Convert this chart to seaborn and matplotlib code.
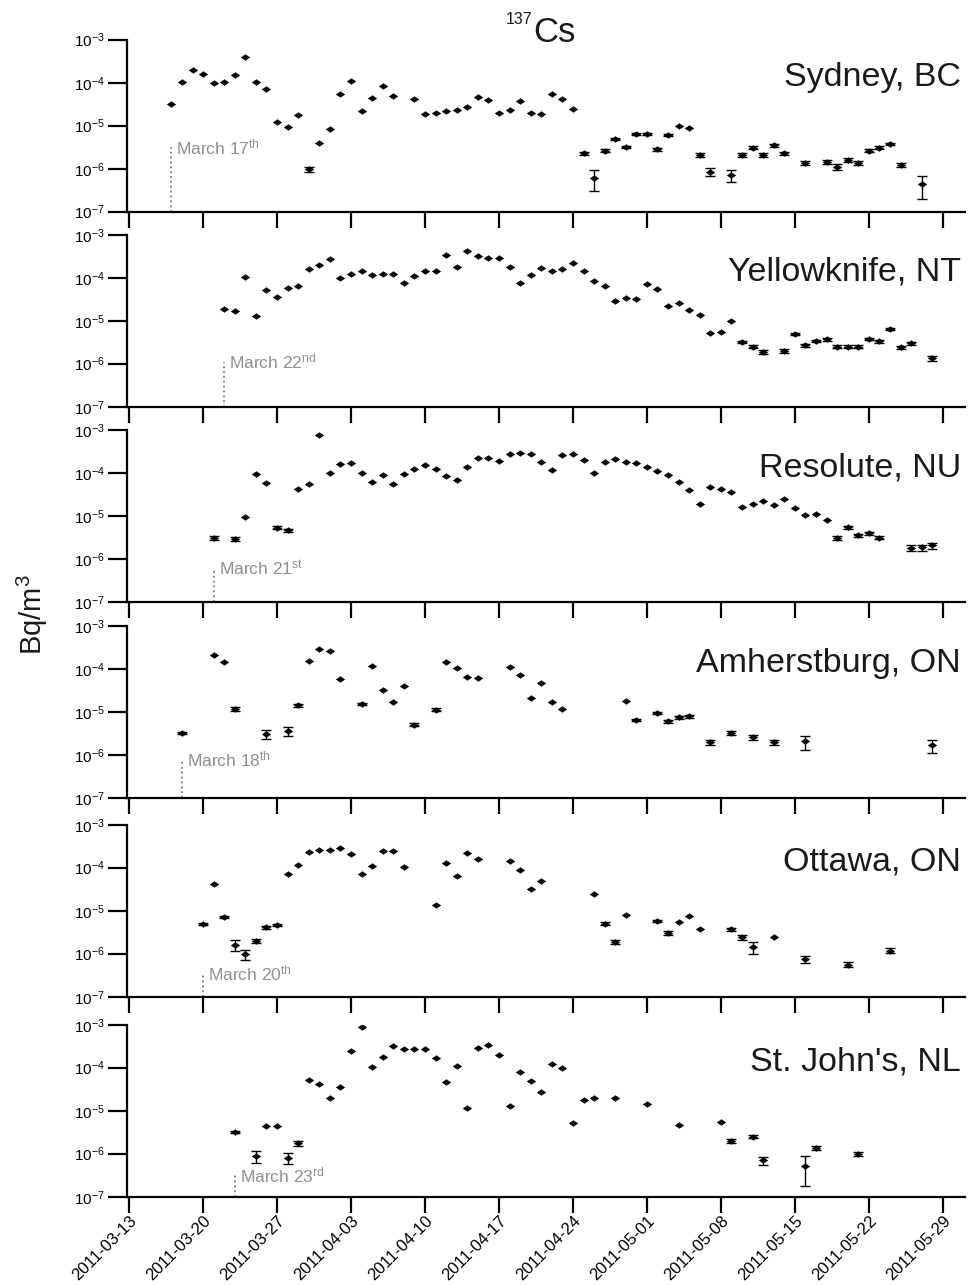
import numpy as np
import pandas as pd
import matplotlib
matplotlib.use("Agg")
import matplotlib.pyplot as plt
import seaborn as sns

# ---------------- data ----------------
START = "2011-03-13"
X_TICKS = ["2011-03-13", "2011-03-20", "2011-03-27", "2011-04-03", "2011-04-10",
           "2011-04-17", "2011-04-24", "2011-05-01", "2011-05-08", "2011-05-15",
           "2011-05-22", "2011-05-29"]
Y_TICKS = [1e-7, 1e-6, 1e-5, 1e-4, 1e-3]
Y_TICK_LABELS = [r"$10^{-7}$", r"$10^{-6}$", r"$10^{-5}$", r"$10^{-4}$", r"$10^{-3}$"]

stations = ["Sydney, BC", "Yellowknife, NT", "Resolute, NU",
            "Amherstburg, ON", "Ottawa, ON", "St. John's, NL"]
first_labels = [r"March 17$^{th}$", r"March 22$^{nd}$", r"March 21$^{st}$",
                r"March 18$^{th}$", r"March 20$^{th}$", r"March 23$^{rd}$"]
first_day = [4, 9, 8, 5, 7, 10]          # days after 2011-03-13
first_top = [3.2e-6, 1.1e-6, 6.3e-7, 7.8e-7, 3.5e-7, 3.2e-7]

# days after 2011-03-13, activity (Bq/m3), uncertainty (0 = hidden by marker)
sydney_day = [4, 5, 6, 7, 8, 9, 10, 11, 12, 13, 14, 15, 16, 17, 18, 19, 20, 21, 22, 23,
              24, 25, 27, 28, 29, 30, 31, 32, 33, 34, 35, 36, 37, 38, 39, 40, 41, 42, 43, 44,
              45, 46, 47, 48, 49, 50, 51, 52, 53, 54, 55, 57, 58, 59, 60, 61, 62, 64, 66, 67,
              68, 69, 70, 71, 72, 73, 75]
sydney_val = [3.2e-5, 1.05e-4, 2.0e-4, 1.6e-4, 9.7e-5, 1.04e-4, 1.5e-4, 3.9e-4, 1.06e-4, 7.3e-5,
              1.24e-5, 9.2e-6, 1.77e-5, 9.8e-7, 4.0e-6, 8.5e-6, 5.6e-5, 1.11e-4, 2.2e-5, 4.4e-5,
              8.4e-5, 4.8e-5, 4.1e-5, 1.85e-5, 2.0e-5, 2.2e-5, 2.3e-5, 2.7e-5, 4.6e-5, 4.0e-5,
              2.0e-5, 2.3e-5, 3.8e-5, 2.0e-5, 1.9e-5, 5.4e-5, 4.2e-5, 2.4e-5, 2.3e-6, 6.2e-7,
              2.6e-6, 4.9e-6, 3.2e-6, 6.5e-6, 6.5e-6, 2.8e-6, 6.0e-6, 9.8e-6, 9.0e-6, 2.1e-6,
              8.5e-7, 7.1e-7, 2.1e-6, 3.1e-6, 2.1e-6, 3.5e-6, 2.3e-6, 1.38e-6, 1.44e-6, 1.12e-6,
              1.6e-6, 1.35e-6, 2.6e-6, 3.1e-6, 3.8e-6, 1.23e-6, 4.4e-7]
sydney_err = [0, 0, 0, 0, 0, 0, 0, 0, 0, 0,
              0, 0, 0, 1.2e-7, 0, 0, 0, 0, 0, 0,
              0, 0, 0, 0, 0, 0, 0, 0, 0, 0,
              0, 0, 0, 0, 0, 0, 0, 0, 2e-7, 3.1e-7,
              2e-7, 3e-7, 2.5e-7, 3e-7, 3e-7, 2.5e-7, 3e-7, 0, 0, 2e-7,
              1.7e-7, 2.2e-7, 2e-7, 2.5e-7, 2e-7, 2.5e-7, 2e-7, 1.6e-7, 1.6e-7, 1.8e-7,
              1.6e-7, 1.5e-7, 2e-7, 2e-7, 2e-7, 1.6e-7, 2.4e-7]

yknife_day = [9, 10, 11, 12, 13, 14, 15, 16, 17, 18, 19, 20, 21, 22, 23, 24, 25, 26, 27, 28,
              29, 30, 31, 32, 33, 34, 35, 36, 37, 38, 39, 40, 41, 42, 43, 44, 45, 46, 47, 48,
              49, 50, 51, 52, 53, 54, 55, 56, 57, 58, 59, 60, 62, 63, 64, 65, 66, 67, 68, 69,
              70, 71, 72, 73, 74, 76]
yknife_val = [1.85e-5, 1.7e-5, 1.06e-4, 1.3e-5, 5.2e-5, 3.6e-5, 5.9e-5, 6.4e-5, 1.56e-4, 2.0e-4,
              2.7e-4, 9.7e-5, 1.22e-4, 1.43e-4, 1.14e-4, 1.22e-4, 1.2e-4, 7.6e-5, 1.12e-4, 1.43e-4,
              1.43e-4, 3.3e-4, 1.8e-4, 4.2e-4, 3.2e-4, 2.8e-4, 2.8e-4, 1.8e-4, 7.6e-5, 1.14e-4,
              1.65e-4, 1.4e-4, 1.6e-4, 2.15e-4, 1.43e-4, 8.4e-5, 6.4e-5, 2.8e-5, 3.4e-5, 3.2e-5,
              7.1e-5, 5.4e-5, 2.2e-5, 2.6e-5, 1.78e-5, 1.35e-5, 5.1e-6, 5.6e-6, 1.0e-5, 3.2e-6,
              2.5e-6, 1.9e-6, 2.0e-6, 4.9e-6, 2.7e-6, 3.4e-6, 3.7e-6, 2.5e-6, 2.5e-6, 2.5e-6,
              3.8e-6, 3.3e-6, 6.3e-6, 2.4e-6, 3.0e-6, 1.35e-6]
yknife_err = [0] * 49 + [2.5e-7, 2e-7, 2e-7, 2e-7, 3e-7, 2e-7, 2.5e-7, 2.5e-7, 2e-7, 2e-7, 2e-7,
                         2.5e-7, 2.5e-7, 3e-7, 2e-7, 2.5e-7, 2e-7]

resolute_day = [8, 10, 11, 12, 13, 14, 15, 16, 17, 18, 19, 20, 21, 22, 23, 24, 25, 26, 27, 28,
                29, 30, 31, 32, 33, 34, 35, 36, 37, 38, 39, 40, 41, 42, 43, 44, 45, 46, 47, 48,
                49, 50, 51, 52, 53, 54, 55, 56, 57, 58, 59, 60, 61, 62, 63, 64, 65, 66, 67, 68,
                69, 70, 71, 74, 75, 76]
resolute_val = [3.1e-6, 3.0e-6, 9.8e-6, 9.5e-5, 5.9e-5, 5.4e-6, 4.8e-6, 4.4e-5, 5.5e-5, 7.8e-4,
                1.02e-4, 1.62e-4, 1.78e-4, 1.02e-4, 6.2e-5, 9.3e-5, 5.7e-5, 9.5e-5, 1.24e-4, 1.53e-4,
                1.26e-4, 8.5e-5, 7.1e-5, 1.4e-4, 2.3e-4, 2.3e-4, 1.96e-4, 2.8e-4, 2.9e-4, 2.8e-4,
                1.8e-4, 1.22e-4, 2.6e-4, 2.8e-4, 2.0e-4, 1.02e-4, 1.8e-4, 2.15e-4, 1.8e-4, 1.75e-4,
                1.38e-4, 1.13e-4, 9.3e-5, 6.2e-5, 4.1e-5, 1.9e-5, 4.8e-5, 4.3e-5, 3.6e-5, 1.63e-5,
                1.94e-5, 2.3e-5, 1.86e-5, 2.5e-5, 1.58e-5, 1.1e-5, 1.15e-5, 8.3e-6, 3.1e-6, 5.5e-6,
                3.6e-6, 4.0e-6, 3.2e-6, 1.85e-6, 1.9e-6, 2.1e-6]
resolute_err = ([3e-7, 3e-7, 0, 0, 0, 4e-7, 4e-7] + [0] * 51 +
                [3e-7, 3e-7, 3e-7, 3e-7, 3e-7, 3e-7, 3e-7, 3.5e-7])

amherst_day = [5, 8, 9, 10, 13, 15, 16, 17, 18, 19, 20, 22, 23, 24, 25, 26, 27, 29, 30, 31,
               32, 33, 36, 37, 38, 39, 40, 41, 47, 48, 50, 51, 52, 53, 55, 57, 59, 61, 64, 76]
amherst_val = [3.3e-6, 2.1e-4, 1.44e-4, 1.2e-5, 3.2e-6, 3.7e-6, 1.45e-5, 1.54e-4, 3.0e-4, 2.7e-4,
               5.9e-5, 1.55e-5, 1.2e-4, 3.3e-5, 1.7e-5, 4.2e-5, 5.2e-6, 1.15e-5, 1.44e-4, 1.1e-4,
               6.5e-5, 6.3e-5, 1.11e-4, 7.2e-5, 2.1e-5, 4.8e-5, 1.7e-5, 1.17e-5, 1.86e-5, 6.6e-6,
               9.8e-6, 6.2e-6, 7.6e-6, 8.1e-6, 2.0e-6, 3.3e-6, 2.6e-6, 2.0e-6, 2.1e-6, 1.7e-6]
amherst_err = [2.5e-7, 0, 0, 1e-6, 7.5e-7, 9e-7, 1e-6, 0, 0, 0,
               0, 1e-6, 0, 0, 0, 0, 4e-7, 8e-7, 0, 0,
               0, 0, 0, 0, 0, 0, 0, 0, 0, 4e-7,
               6e-7, 5e-7, 5e-7, 6e-7, 3e-7, 4e-7, 3.5e-7, 2.5e-7, 7.7e-7, 5.7e-7]

ottawa_day = [7, 8, 9, 10, 11, 12, 13, 14, 15, 16, 17, 18, 19, 20, 21, 22, 23, 24, 25, 26,
              29, 30, 31, 32, 33, 36, 37, 38, 39, 44, 45, 46, 47, 50, 51, 52, 53, 54, 57, 58,
              59, 61, 64, 68, 72]
ottawa_val = [5.0e-6, 4.2e-5, 7.1e-6, 1.6e-6, 9.8e-7, 2.0e-6, 4.1e-6, 4.6e-6, 7.1e-5, 1.14e-4,
              2.3e-4, 2.6e-4, 2.6e-4, 2.8e-4, 2.1e-4, 7.0e-5, 1.1e-4, 2.5e-4, 2.5e-4, 1.06e-4,
              1.35e-5, 1.26e-4, 6.5e-5, 2.2e-4, 1.6e-4, 1.43e-4, 9.0e-5, 3.2e-5, 5.0e-5, 2.5e-5,
              5.0e-6, 1.87e-6, 7.8e-6, 5.9e-6, 3.0e-6, 5.5e-6, 7.6e-6, 3.8e-6, 3.7e-6, 2.4e-6,
              1.44e-6, 2.4e-6, 7.4e-7, 5.6e-7, 1.18e-6]
ottawa_err = [3e-7, 0, 4e-7, 4.7e-7, 2.5e-7, 2e-7, 3e-7, 3e-7, 0, 0,
              0, 0, 0, 0, 0, 0, 0, 0, 0, 0,
              0, 0, 0, 0, 0, 0, 0, 0, 0, 0,
              4e-7, 2e-7, 0, 3e-7, 3e-7, 0, 0, 0, 3e-7, 3e-7,
              4.6e-7, 0, 1.3e-7, 8e-8, 1.5e-7]

stjohns_day = [10, 12, 13, 14, 15, 16, 17, 18, 19, 20, 21, 22, 23, 24, 25, 26, 27, 28, 29, 30,
               31, 32, 33, 34, 35, 36, 37, 38, 39, 40, 41, 42, 43, 44, 46, 49, 52, 56, 57, 59,
               60, 64, 65, 69]
stjohns_val = [3.2e-6, 8.9e-7, 4.5e-6, 4.5e-6, 8.1e-7, 1.74e-6, 5.2e-5, 4.1e-5, 1.94e-5, 3.6e-5,
               2.5e-4, 8.7e-4, 1.04e-4, 1.8e-4, 3.2e-4, 2.7e-4, 2.7e-4, 2.7e-4, 1.65e-4, 4.7e-5,
               1.07e-4, 1.17e-5, 2.8e-4, 3.3e-4, 2.0e-4, 1.29e-5, 7.9e-5, 5.0e-5, 2.7e-5, 1.24e-4,
               9.7e-5, 5.1e-6, 1.8e-5, 2.0e-5, 2.0e-5, 1.4e-5, 4.7e-6, 5.5e-6, 2.0e-6, 2.5e-6,
               7.0e-7, 5.3e-7, 1.35e-6, 9.8e-7]
stjohns_err = [2.5e-7, 2.9e-7, 0, 0, 2.35e-7, 2e-7, 0, 0, 0, 0,
               0, 0, 0, 0, 0, 0, 0, 0, 0, 0,
               0, 0, 0, 0, 0, 0, 0, 0, 0, 0,
               0, 0, 0, 0, 0, 0, 0, 0, 2e-7, 2e-7,
               1.5e-7, 3.5e-7, 1.5e-7, 1e-7]

series = [(sydney_day, sydney_val, sydney_err),
          (yknife_day, yknife_val, yknife_err),
          (resolute_day, resolute_val, resolute_err),
          (amherst_day, amherst_val, amherst_err),
          (ottawa_day, ottawa_val, ottawa_err),
          (stjohns_day, stjohns_val, stjohns_err)]

# ---------------- style ----------------
sns.set_theme(style="ticks")
plt.rcParams["font.family"] = ["Liberation Sans", "DejaVu Sans"]
plt.rcParams["mathtext.default"] = "regular"

W, H = 971, 1285
fig = plt.figure(figsize=(W / 100, H / 100), dpi=100)

left_px, right_px = 127, 965
bottoms_px = [211.7, 406.7, 602.3, 798.3, 996.7, 1196.7]
panel_h = 172

start = pd.Timestamp(START)
x_min = start - pd.Timedelta(days=0.2)
x_max = start + pd.Timedelta(days=79.1)
diamond = [(-1, 0), (0, 0.68), (1, 0), (0, -0.68), (-1, 0)]

for i, (name, (days, vals, errs)) in enumerate(zip(stations, series)):
    b = bottoms_px[i]
    ax = fig.add_axes([left_px / W, 1 - b / H, (right_px - left_px) / W, panel_h / H])
    df = pd.DataFrame({"date": start + pd.to_timedelta(days, unit="D"),
                       "value": vals, "err": errs})
    sub = df[df["err"] > 0]
    ax.errorbar(sub["date"], sub["value"], yerr=sub["err"], fmt="none",
                ecolor="black", elinewidth=1.0, capsize=3.3, capthick=1.0, zorder=2)
    sns.scatterplot(data=df, x="date", y="value", marker=diamond, s=38,
                    color="black", edgecolor="black", linewidth=0.3,
                    ax=ax, legend=False, zorder=3)

    # first-detection marker
    fd = start + pd.Timedelta(days=first_day[i])
    ax.plot([fd, fd], [1e-7, first_top[i]], color="#8c8c8c", ls=(0, (1, 1.5)), lw=1.4, zorder=1)
    ax.annotate(first_labels[i], xy=(fd, first_top[i]), xytext=(3.5, 0),
                textcoords="offset points", va="center", ha="left",
                fontsize=12.5, color="#909090")

    ax.set_yscale("log")
    ax.set_ylim(1e-7, 1e-3)
    ax.set_xlim(x_min, x_max)
    ax.set_yticks(Y_TICKS)
    ax.set_yticklabels(Y_TICK_LABELS)
    ax.yaxis.set_minor_locator(matplotlib.ticker.NullLocator())
    ax.set_xticks(pd.to_datetime(X_TICKS))
    if i == len(stations) - 1:
        ax.set_xticklabels(X_TICKS, rotation=45, ha="right", rotation_mode="anchor")
    else:
        ax.set_xticklabels([])
    ax.tick_params(axis="x", direction="out", length=11.5, width=1.6, pad=0.5,
                   labelsize=12, colors="black")
    ax.tick_params(axis="y", direction="out", length=14, width=1.6, pad=2,
                   labelsize=11, colors="black")
    ax.set_xlabel("")
    ax.set_ylabel("")
    for sp in ["top", "right"]:
        ax.spines[sp].set_visible(False)
    for sp in ["left", "bottom"]:
        ax.spines[sp].set_linewidth(1.6)
        ax.spines[sp].set_color("black")
    ax.set_facecolor("white")

    ax.text(0.995, 1 - 46 / panel_h, name, transform=ax.transAxes,
            ha="right", va="baseline", fontsize=24.5, color="#1a1a1a")

# title and axis label
fig.text(533 / W, 1 - 42 / H, "Cs", ha="left", va="baseline", fontsize=25, color="#1a1a1a")
fig.text(532 / W, 1 - 24 / H, "137", ha="right", va="baseline", fontsize=11.5, color="#1a1a1a")
fig.text(32 / W, 1 - 615 / H, r"Bq/m$^3$", rotation=90, ha="center", va="center",
         fontsize=21, color="#1a1a1a")

fig.savefig("out.png", dpi=100, facecolor="white")
